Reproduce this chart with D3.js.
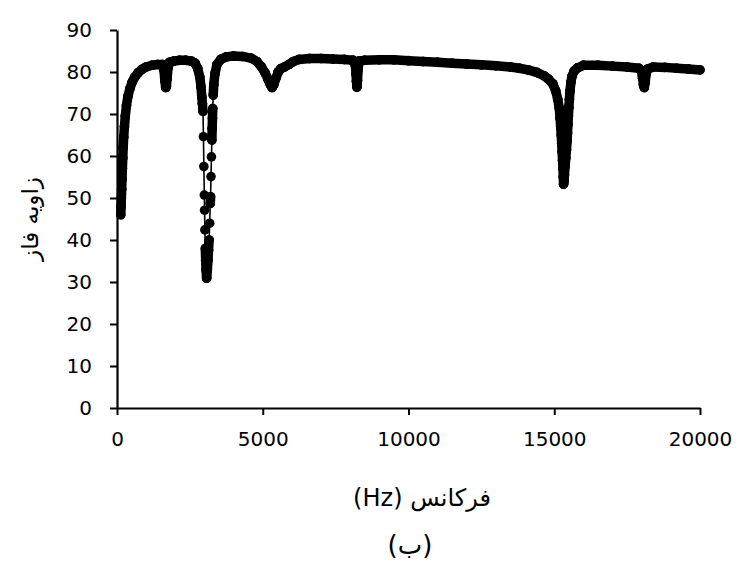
<!DOCTYPE html>
<html>
<head>
<meta charset="utf-8">
<script src="https://cdn.jsdelivr.net/npm/d3@7"></script>
<style>
  html, body { margin: 0; padding: 0; background: #fff; }
  svg { display: block; }
  text { font-family: "DejaVu Sans", sans-serif; fill: #000; }
</style>
</head>
<body>
<svg id="chart" width="738" height="573"></svg>
<script>
// ---- data ----
const freqHz = [
  130, 140, 150, 160, 172, 185, 198, 212, 230, 255, 285, 325, 375, 440, 520, 610, 720, 850, 1000, 1200,
  1400, 1560, 1610, 1640, 1670, 1695, 1720, 1750, 1800, 1950, 2150, 2350, 2550, 2680, 2770, 2840, 2880, 2910,
  2930, 2950, 2965, 2980, 2995, 3005, 3015, 3030, 3042, 3055, 3075,
  3100, 3120, 3140, 3160, 3180, 3200, 3210, 3225, 3240, 3255, 3265, 3275, 3285, 3300, 3320, 3360, 3430, 3560,
  3750, 4000, 4300, 4600, 4800, 4950, 5080, 5180, 5260, 5320, 5380, 5450, 5530, 5620, 5750, 5900, 6050, 6250,
  6600, 7000, 7400, 7800, 8100, 8180, 8200, 8215, 8230, 8250, 8270, 8300, 8500, 9000, 9500, 10000, 10500,
  11000, 11500, 12000, 12500, 13000, 13500, 13800, 14100, 14400, 14650, 14800, 14950, 15050, 15120, 15170,
  15200, 15220, 15240, 15255, 15270, 15285, 15300, 15310, 15320,
  15335, 15350, 15370, 15395, 15420, 15440, 15455, 15470, 15485, 15500, 15520, 15540, 15570, 15610, 15680,
  15800, 16000, 16500, 17000, 17500, 17900, 17990, 18030, 18060, 18090, 18120, 18150, 18200, 18400, 18800,
  19200, 19600, 20000
];
const phaseDeg = [
  46, 48, 50, 52, 54.5, 57, 59.5, 62, 64.5, 67, 69.5, 72, 74.2, 76, 77.6, 78.8, 79.8, 80.6, 81.2, 81.6,
  81.8, 81.8, 80.5, 78, 76.3, 76.5, 78.5, 81, 82.3, 82.6, 82.8, 82.8, 82.6, 82.1, 80.8, 78.8, 76.5, 74,
  72.5, 70.6, 64.6, 57.5, 50.7, 47.1, 42.4, 38, 35.2, 32.9, 30.9,
  32.9, 35.2, 37.6, 40, 44, 48.7, 50.3, 55.1, 59.8, 63.8, 66.6, 69, 71.3, 74.5, 77, 79.6, 81.8, 83,
  83.6, 83.8, 83.7, 83.3, 82.5, 81.3, 79.8, 78.3, 77, 76.3, 77, 78.5, 80, 80.8, 81.2, 81.8, 82.5, 83,
  83.2, 83.2, 83.1, 83, 82.8, 81.5, 79.5, 77.8, 76.4, 78, 80.5, 82.6, 82.8, 82.9, 82.9, 82.7, 82.5,
  82.3, 82.1, 81.9, 81.7, 81.5, 81.2, 80.9, 80.5, 79.9, 79.1, 78.3, 77.2, 75.5, 73.5, 71.5,
  69, 67, 65, 63, 61, 59, 57, 55, 53.3,
  54, 55.5, 57.5, 59.5, 61.5, 63.5, 65.5, 67.5, 69.5, 71.5, 73.5, 75.5, 77.5, 79, 80.2,
  81, 81.6, 81.6, 81.4, 81.2, 80.9, 80.3, 78.5, 77, 76.3, 77.5, 79.5, 80.7, 81.2, 81.1,
  80.9, 80.7, 80.5
];
const xTicks = [0, 5000, 10000, 15000, 20000];
const yTicks = [0, 10, 20, 30, 40, 50, 60, 70, 80, 90];
const xTitle = "فرکانس (Hz)";
const yTitle = "زاویه فاز";
const caption = "(ب)";

// ---- drawing ----
const svg = d3.select("#chart");
svg.append("rect").attr("width", 738).attr("height", 573).attr("fill", "#fff");

const x = d3.scaleLinear().domain([0, 20000]).range([117, 700]);
const y = d3.scaleLinear().domain([0, 90]).range([408, 30]);

const pts = freqHz.map((f, i) => [x(f), y(phaseDeg[i])]);

// axes
const gx = svg.append("g").attr("transform", "translate(0,408)")
  .call(d3.axisBottom(x).tickValues(xTicks).tickFormat(d3.format("d")).tickSize(7).tickSizeOuter(0).tickPadding(17));
const gy = svg.append("g").attr("transform", "translate(117,0)")
  .call(d3.axisLeft(y).tickValues(yTicks).tickFormat(d3.format("d")).tickSize(7).tickSizeOuter(0).tickPadding(18));
[gx, gy].forEach(g => {
  g.select(".domain").attr("stroke", "#000").attr("stroke-width", 2.2);
  g.selectAll(".tick line").attr("stroke", "#000").attr("stroke-width", 2);
  g.selectAll(".tick text").attr("font-size", 20).attr("font-family", "DejaVu Sans, sans-serif").attr("fill", "#000");
});

// series: thin connecting line
const line = d3.line();
svg.append("path").attr("d", line(pts)).attr("fill", "none")
  .attr("stroke", "#000").attr("stroke-width", 1.6);

// overlapping markers form a thick band where points are close
const segs = [];
for (let i = 0; i < pts.length - 1; i++) {
  const dx = pts[i + 1][0] - pts[i][0], dy = pts[i + 1][1] - pts[i][1];
  const len = Math.hypot(dx, dy);
  if (len < 12 || Math.abs(dy) < 4) segs.push([pts[i], pts[i + 1]]);
}
svg.append("g").selectAll("line").data(segs).join("line")
  .attr("x1", d => d[0][0]).attr("y1", d => d[0][1])
  .attr("x2", d => d[1][0]).attr("y2", d => d[1][1])
  .attr("stroke", "#000").attr("stroke-width", 9.5).attr("stroke-linecap", "round");

svg.append("g").selectAll("circle").data(pts).join("circle")
  .attr("cx", d => d[0]).attr("cy", d => d[1]).attr("r", 4.8).attr("fill", "#000");

// titles
svg.append("text").attr("transform", "translate(30,219) rotate(-90)")
  .attr("text-anchor", "middle").attr("dominant-baseline", "central")
  .attr("direction", "rtl").attr("font-size", 23).text(yTitle);
svg.append("text").attr("x", 422).attr("y", 506)
  .attr("text-anchor", "middle").attr("direction", "rtl").attr("font-size", 24).text(xTitle);
svg.append("text").attr("x", 410).attr("y", 554)
  .attr("text-anchor", "middle").attr("direction", "rtl").attr("font-size", 26).text(caption);
</script>
</body>
</html>
